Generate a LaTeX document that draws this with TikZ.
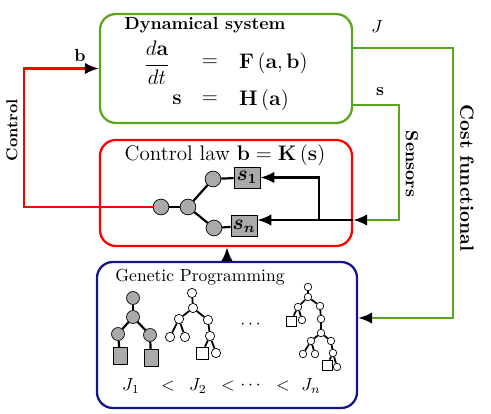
\documentclass[tikz,border=0pt]{standalone}
\usepackage{amsmath, amssymb}
\usetikzlibrary{arrows.meta,calc}

\definecolor{sysgreen}{RGB}{90,165,30}
\definecolor{gpblue}{RGB}{20,20,140}
\definecolor{leafgray}{RGB}{170,170,170}

\begin{document}
\begin{tikzpicture}[x=0.57pt,y=-0.57pt,
	box/.style={draw,line width=1.3pt,rounded corners=9pt,inner sep=0pt},
	arr/.style={-{Latex[length=8pt,width=6.5pt,black]}},
	sig/.style={line width=1.25pt},
	knode/.style={circle,draw,fill=leafgray,inner sep=0pt,minimum size=9pt},
	sensbox/.style={draw,fill=leafgray,inner sep=0pt,minimum width=14.8pt,minimum height=12pt},
	gnode/.style={circle,draw,fill=leafgray,inner sep=0pt,minimum size=7.4pt},
	gleaf/.style={draw,fill=leafgray,inner sep=0pt,minimum width=8pt,minimum height=9.7pt},
	wnode/.style={circle,draw,fill=white,inner sep=0pt,minimum size=#1},
	wleaf/.style={draw,fill=white,inner sep=0pt,minimum size=#1}]
	\useasboundingbox (0,0) rectangle (491,414);

	% the three blocks
	\node[box,draw=sysgreen,minimum width=143.6pt,minimum height=62.1pt] (dyn) at (226,68.5) {};
	\node[box,draw=red,minimum width=143.6pt,minimum height=60.4pt] (law) at (226,193) {};
	\node[box,draw=gpblue,minimum width=148.2pt,minimum height=83.2pt] (gp) at (227,335) {};

	% dynamical system
	\node (dyntitle) at (205,25) {\textbf{Dynamical system}};
	\node (lhsa) at (157,63) {\large$\dfrac{d\mathbf{a}}{dt}$};
	\node (eqa) at (210,63) {\large$=$};
	\node[anchor=west] (rhsa) at (233,63) {\large$\mathbf{F}\left(\mathbf{a},\mathbf{b}\right)$};
	\node (lhsb) at (177,100) {\large$\mathbf{s}$};
	\node (eqb) at (210,100) {\large$=$};
	\node[anchor=west] (rhsb) at (233,100) {\large$\mathbf{H}\left(\mathbf{a}\right)$};

	% control law
	\node (lawtitle) at (225,155) {\large Control law $\mathbf{b}=\mathbf{K}\left(\mathbf{s}\right)$};
	\node[knode] (k0) at (161,207) {};
	\node[knode] (k1) at (188,207) {};
	\node[knode] (k2) at (213,179) {};
	\node[knode] (k3) at (214,228) {};
	\node[sensbox] (s1) at (247,177.5) {\large$\boldsymbol{s_1}$};
	\node[sensbox] (sn) at (244,226) {\large$\boldsymbol{s_n}$};
	\foreach \a/\b in {k0/k1,k1/k2,k1/k3,k2/s1,k3/sn}
		\draw[sig] (\a) -- (\b);

	% genetic programming
	\node (gptitle) at (200,277) {Genetic Programming};
	\node[gnode] (a1) at (133,298) {};
	\node[gnode] (a2) at (133,317) {};
	\node[gnode] (a3) at (118,334) {};
	\node[gnode] (a4) at (150,335) {};
	\node[gleaf] (a5) at (120,356) {};
	\node[gleaf] (a6) at (151,358) {};
	\foreach \a/\b in {a1/a2,a2/a3,a2/a4,a3/a5,a4/a6}
		\draw[sig] (\a) -- (\b);

	\node[wnode=5.3pt] (b1) at (192,293) {};
	\node[wnode=5.3pt] (b2) at (193,308) {};
	\node[wnode=5.3pt] (b3) at (179,319) {};
	\node[wnode=5.3pt] (b4) at (208,320) {};
	\node[wnode=5.3pt] (b5) at (170,337) {};
	\node[wnode=5.3pt] (b6) at (185,337) {};
	\node[wnode=5.3pt] (b7) at (210,336) {};
	\node[wleaf=6.8pt] (b8) at (202,353) {};
	\node[wnode=5.3pt] (b9) at (216,353) {};
	\foreach \a/\b in {b1/b2,b2/b3,b2/b4,b3/b5,b3/b6,b4/b7,b7/b8,b7/b9}
		\draw[line width=1pt] (\a) -- (\b);

	\node (gpdots) at (252,325) {$\cdots$};

	\node[wnode=4.3pt] (c1) at (308,287) {};
	\node[wnode=4.3pt] (c2) at (308,297) {};
	\node[wnode=4.3pt] (c3) at (298,307) {};
	\node[wnode=4.3pt] (c4) at (320,306) {};
	\node[wleaf=5.7pt] (c5) at (291,321) {};
	\node[wnode=4.3pt] (c6) at (302,320) {};
	\node[wnode=4.3pt] (c7) at (321,319) {};
	\node[wnode=4.3pt] (c8) at (321,333) {};
	\node[wnode=4.3pt] (c9) at (311,341) {};
	\node[wnode=4.3pt] (c10) at (331,341) {};
	\node[wnode=4.3pt] (c11) at (303,354) {};
	\node[wnode=4.3pt] (c12) at (315,354) {};
	\node[wnode=4.3pt] (c13) at (333,353) {};
	\node[wleaf=5.7pt] (c14) at (327,365) {};
	\node[wnode=4.3pt] (c15) at (337,367) {};
	\foreach \a/\b in {c1/c2,c2/c3,c2/c4,c3/c5,c3/c6,c4/c7,c7/c8,c8/c9,c8/c10,c9/c11,c9/c12,c10/c13,c13/c14,c13/c15}
		\draw[line width=1pt] (\a) -- (\b);

	% ranking by cost
	\node (j1) at (131,386) {$J_1$};
	\node (lta) at (168,386) {$<$};
	\node (j2) at (198,386) {$J_2$};
	\node (ltb) at (228,386) {$<$};
	\node (jdots) at (252,386) {$\cdots$};
	\node (ltc) at (283,386) {$<$};
	\node (jn) at (311,386) {$J_n$};

	% connectors
	\coordinate (ctl) at (24,207);
	\draw[sig,red,arr] (k0) -- (k0 -| ctl) |- (dyn.west);
	\node (blab) at (80,55) {$\mathbf{b}$};
	\node[rotate=90] (ctllab) at (12,130) {\small\textbf{Control}};

	\coordinate (sout) at ($(dyn.east)+(0,36.5)$);
	\coordinate (sin) at ($(law.east)+(0,27)$);
	\coordinate (sr) at (399,105);
	\coordinate (br) at (319,220);
	\draw[sig,sysgreen,arr] (sout) -- (sr) |- (sin);
	\draw[sig,arr] (sin) -- (sin -| sn.east);
	\draw[sig,arr] (br) |- (s1);
	\node (slab) at (380,92) {$\mathbf{s}$};
	\node[rotate=-90] (senslab) at (412,164) {\textbf{Sensors}};

	\coordinate (jout) at ($(dyn.east)+(0,-20.5)$);
	\coordinate (jin) at ($(gp.east)+(0,-17)$);
	\coordinate (jr) at (453,48);
	\draw[sig,sysgreen,arr] (jout) -- (jr) |- (jin);
	\node (jlab) at (377,27) {$J$};
	\node[rotate=-90] (costlab) at (467,178) {\fontsize{10.9}{13}\selectfont\textbf{Cost functional}};

	\draw[sig,arr] (gp.north) -- (gp.north |- law.south);
\end{tikzpicture}
\end{document}
